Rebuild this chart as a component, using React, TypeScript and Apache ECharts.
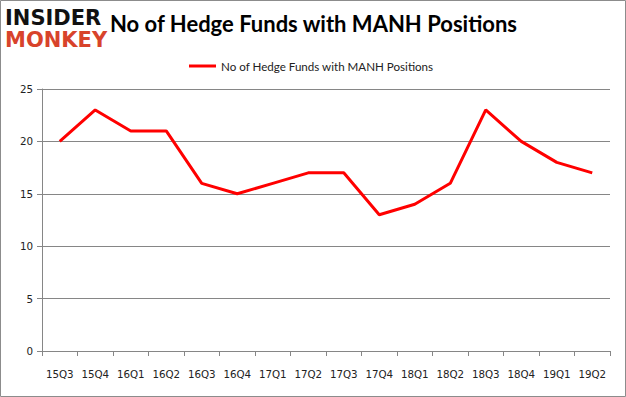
import React, { useEffect, useRef } from "react";
import * as echarts from "echarts";

const categories = ["15Q3","15Q4","16Q1","16Q2","16Q3","16Q4","17Q1","17Q2","17Q3","17Q4","18Q1","18Q2","18Q3","18Q4","19Q1","19Q2"];
const hedgeFunds = [20, 23, 21, 21, 16, 15, 16, 17, 17, 13, 14, 16, 23, 20, 18, 17];
const seriesName = "No of Hedge Funds with MANH Positions";
const titleText = "No of Hedge Funds with MANH Positions";

export default function App() {
  const ref = useRef<HTMLDivElement>(null);
  useEffect(() => {
    document.body.style.margin = "0";
    const chart = echarts.init(ref.current!, null, { renderer: "svg" });
    chart.setOption({
      animation: false,
      backgroundColor: "#ffffff",
      grid: { left: 42, right: 16, top: 89, bottom: 46 },
      legend: {
        top: 55,
        left: 184,
        itemWidth: 27,
        itemHeight: 3,
        itemGap: 4,
        icon: "rect",
        textStyle: { fontFamily: "Lato", fontSize: 11.6, color: "#222" },
        data: [seriesName],
      },
      xAxis: {
        type: "category",
        data: categories,
        boundaryGap: true,
        axisLine: { lineStyle: { color: "#868686" } },
        axisTick: { show: true, length: 5, interval: 0, lineStyle: { color: "#868686" } },
        axisLabel: { fontFamily: "DejaVu Sans", fontSize: 10.3, color: "#222", margin: 18, interval: 0 },
      },
      yAxis: {
        type: "value",
        min: 0,
        max: 25,
        interval: 5,
        axisLine: { show: true, lineStyle: { color: "#868686" } },
        axisTick: { show: true, length: 5, lineStyle: { color: "#868686" } },
        splitLine: { lineStyle: { color: "#868686" } },
        axisLabel: { fontFamily: "DejaVu Sans", fontSize: 10.3, color: "#222", margin: 9 },
      },
      series: [
        {
          name: seriesName,
          type: "line",
          data: hedgeFunds,
          showSymbol: false,
          symbol: "none",
          lineStyle: { color: "#ff0000", width: 3 },
          itemStyle: { color: "#ff0000" },
        },
      ],
      graphic: [
        {
          type: "rect",
          shape: { x: 0.5, y: 0.5, width: 625, height: 396 },
          style: { fill: "none", stroke: "#8c8c8c", lineWidth: 1 },
        },
        {
          type: "text",
          x: 5,
          y: 7,
          style: { text: "INSIDER", fontFamily: "DejaVu Sans", fontWeight: 900, fontSize: 21, fill: "#111", letterSpacing: -0.5 },
        },
        {
          type: "text",
          x: 5,
          y: 29,
          style: { text: "MONKEY", fontFamily: "DejaVu Sans", fontWeight: 900, fontSize: 21, fill: "#d8432b", letterSpacing: -0.5 },
        },
        {
          type: "text",
          x: 110,
          y: 12,
          style: { text: titleText, fontFamily: "Lato", fontWeight: "bold", fontSize: 22, fill: "#000" },
        },
      ],
    });
    return () => chart.dispose();
  }, []);
  return <div ref={ref} style={{ width: 626, height: 397 }} />;
}
